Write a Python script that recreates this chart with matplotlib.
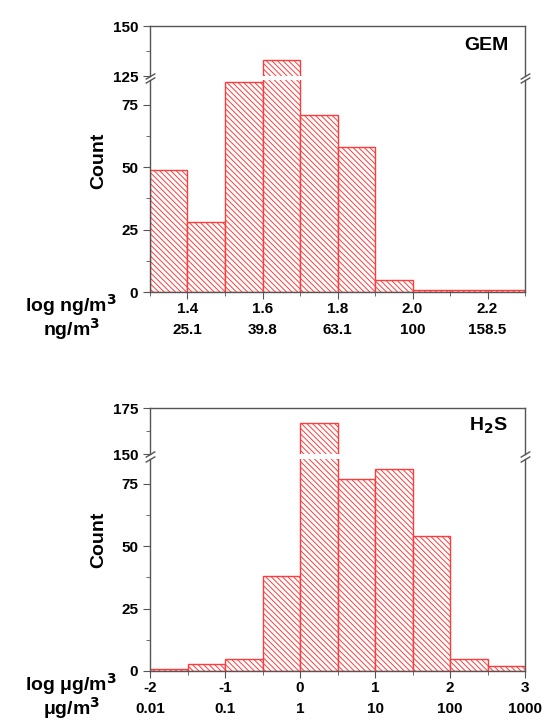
import numpy as np
import matplotlib
matplotlib.use("Agg")
import matplotlib.pyplot as plt
from matplotlib.ticker import MultipleLocator

plt.rcParams['font.family'] = ['Liberation Sans', 'DejaVu Sans']
plt.rcParams['font.weight'] = 'bold'
plt.rcParams['hatch.linewidth'] = 0.7

# GEM histogram (log ng/m3 bins)
gem_edges = [1.3, 1.4, 1.5, 1.6, 1.7, 1.8, 1.9, 2.0, 2.1, 2.2, 2.3]
gem_counts = [49, 28, 84, 133, 71, 58, 5, 1, 1, 1]
gem_ticks = [1.4, 1.6, 1.8, 2.0, 2.2]
gem_tick_labels = ["1.4", "1.6", "1.8", "2.0", "2.2"]
gem_lin_labels = ["25.1", "39.8", "63.1", "100", "158.5"]

# H2S histogram (log ug/m3 bins)
h2s_edges = [-2, -1.5, -1, -0.5, 0, 0.5, 1, 1.5, 2, 2.5, 3]
h2s_counts = [1, 3, 5, 38, 167, 77, 81, 54, 5, 2]
h2s_ticks = [-2, -1, 0, 1, 2, 3]
h2s_tick_labels = ["-2", "-1", "0", "1", "2", "3"]
h2s_lin_labels = ["0.01", "0.1", "1", "10", "100", "1000"]

spine_col = "#555555"
bar_col = "#ff3b3b"
fs = 11

fig = plt.figure(figsize=(5.44, 7.22), dpi=100)


def broken_panel(lower_box, upper_box, edges, counts, low_top, up_lim, up_minor,
                 ticks, tick_labels, lin_labels, xminor, name, unit_log, unit_lin):
    ax_lo = fig.add_axes(lower_box)
    ax_up = fig.add_axes(upper_box)
    widths = np.diff(edges)
    for ax in (ax_lo, ax_up):
        ax.bar(edges[:-1], counts, width=widths, align="edge", facecolor="white",
               edgecolor=bar_col, hatch="\\\\\\\\\\\\", linewidth=1.0)
        ax.set_xlim(edges[0], edges[-1])
        for s in ax.spines.values():
            s.set_color(spine_col)
            s.set_linewidth(1.0)
        ax.tick_params(axis="y", which="both", direction="out", color=spine_col,
                       labelsize=fs, right=False)
        ax.tick_params(axis="y", which="major", length=5)
        ax.tick_params(axis="y", which="minor", length=3)

    ax_lo.set_ylim(0, low_top)
    ax_lo.set_yticks([0, 25, 50, 75])
    ax_lo.yaxis.set_minor_locator(MultipleLocator(12.5))
    ax_lo.spines["top"].set_visible(False)
    ax_lo.set_xticks(ticks)
    ax_lo.set_xticklabels(tick_labels)
    ax_lo.xaxis.set_minor_locator(MultipleLocator(xminor))
    ax_lo.tick_params(axis="x", which="both", direction="out", color=spine_col,
                      labelsize=fs, top=False, pad=2)
    ax_lo.tick_params(axis="x", which="major", length=5)
    ax_lo.tick_params(axis="x", which="minor", length=3)

    ax_up.set_ylim(*up_lim)
    ax_up.set_yticks(list(up_lim))
    ax_up.yaxis.set_minor_locator(MultipleLocator(up_minor))
    ax_up.spines["bottom"].set_visible(False)
    ax_up.set_xticks([])
    ax_up.tick_params(axis="x", which="both", bottom=False, top=False)

    # break marks
    kw = dict(marker=[(-1, -0.6), (1, 0.6)], markersize=7, linestyle="none",
              color=spine_col, mec=spine_col, mew=1, clip_on=False)
    ax_lo.plot([0, 1], [1, 1], transform=ax_lo.transAxes, **kw)
    ax_up.plot([0, 1], [0, 0], transform=ax_up.transAxes, **kw)

    ax_up.text(0.955, 0.62, name, transform=ax_up.transAxes, ha="right",
               va="center", fontsize=14, fontweight="bold")

    ax_lo.set_ylabel("Count", fontsize=14, fontweight="bold")
    ax_lo.yaxis.set_label_coords(-0.115, 0.62)

    for x, lab in zip(ticks, lin_labels):
        ax_lo.text(x, -0.18, lab, transform=ax_lo.get_xaxis_transform(),
                   ha="center", va="center", fontsize=fs, fontweight="bold")
    ax_lo.text(-0.21, -0.06, unit_log, transform=ax_lo.transAxes, ha="center",
               va="center", fontsize=14, fontweight="bold")
    ax_lo.text(-0.21, -0.175, unit_lin, transform=ax_lo.transAxes, ha="center",
               va="center", fontsize=14, fontweight="bold")
    return ax_lo, ax_up


L, W = 150 / 544, 375 / 544
broken_panel([L, 1 - 292 / 722, W, 212 / 722], [L, 1 - 76 / 722, W, 50 / 722],
             np.array(gem_edges), gem_counts, 85, (125, 150), 12.5,
             gem_ticks, gem_tick_labels, gem_lin_labels, 0.1, "GEM",
             "log ng/m$^\\mathbf{3}$", "ng/m$^\\mathbf{3}$")
broken_panel([L, 1 - 671 / 722, W, 212 / 722], [L, 1 - 454 / 722, W, 46 / 722],
             np.array(h2s_edges), h2s_counts, 85, (150, 175), 12.5,
             h2s_ticks, h2s_tick_labels, h2s_lin_labels, 0.5,
             "H$_\\mathbf{2}$S",
             "log \u03bcg/m$^\\mathbf{3}$", "\u03bcg/m$^\\mathbf{3}$")

plt.savefig("out.png", dpi=100)
